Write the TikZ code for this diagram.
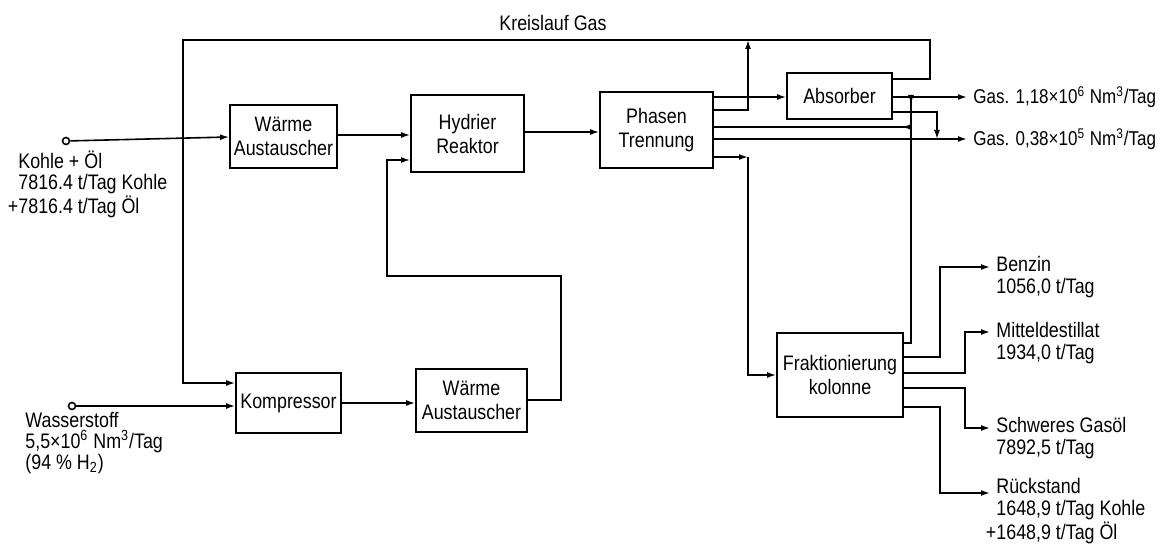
\documentclass[tikz,border=0pt]{standalone}
\usepackage{fontspec}
\setmainfont[FakeStretch=0.85]{Liberation Sans}
\usetikzlibrary{arrows.meta}
\tikzset{
  box/.style={draw, line width=0.9pt, align=center, inner sep=0pt, font=\fontsize{10.5}{12}\selectfont},
  ln/.style={line width=0.8pt},
  arr/.style={ln, -{Latex[length=4.5pt,width=3pt]}},
  lbl/.style={inner sep=0pt, align=left, font=\fontsize{10.5}{10.5}\selectfont, anchor=north west},
  tlbl/.style={inner sep=3pt, font=\fontsize{10.5}{10.5}\selectfont, anchor=west},
  glbl/.style={inner sep=3pt, font=\fontsize{10}{10.5}\selectfont, anchor=west},
  circ/.style={draw, circle, line width=0.8pt, inner sep=0pt, minimum size=3.5pt, fill=white},
}
\begin{document}
\begin{tikzpicture}[x=0.5pt,y=-0.5pt]
\useasboundingbox (0,0) rectangle (1176,545);

% boxes
\node[box, minimum width=53.5pt, minimum height=31.5pt] (wa1) at (283.5,136.5) {Wärme\\Austauscher};
\node[box, minimum width=56.5pt, minimum height=38.5pt] (hr)  at (467.5,133.5) {Hydrier\\Reaktor};
\node[box, minimum width=56.5pt, minimum height=38pt]   (pt)  at (656.5,130)   {Phasen\\Trennung};
\node[box, minimum width=52.5pt, minimum height=23pt]   (ab)  at (839.5,96)    {Absorber};
\node[box, minimum width=63pt,   minimum height=42pt]   (fk)  at (840,375)     {Fraktionierung\\kolonne};
\node[box, minimum width=52.5pt, minimum height=30pt]   (ko)  at (288.5,403)   {Kompressor};
\node[box, minimum width=55.5pt, minimum height=31.5pt] (wa2) at (471.5,400.5) {Wärme\\Austauscher};

% labels
\node[font=\fontsize{10.5}{10.5}\selectfont] (kg) at (553,23) {Kreislauf Gas};
\node[circ] (k0) at (66,141) {};
\node[lbl] (kl) at (18,151) {Kohle + Öl\\7816.4 t/Tag Kohle\\\llap{+}7816.4 t/Tag Öl};
\node[circ] (h0) at (72,406) {};
\node[lbl] (hl) at (25,412) {Wasserstoff\\5,5×10\textsuperscript{6} Nm\textsuperscript{3}/Tag\\(94 \% H\textsubscript{2})};
\node[glbl] (g1) at (967,97) {Gas. 1,18×10\textsuperscript{6} Nm\textsuperscript{3}/Tag};
\node[glbl] (g2) at (967,139) {Gas. 0,38×10\textsuperscript{5} Nm\textsuperscript{3}/Tag};
\node[tlbl] (bz) at (990,264) {Benzin};
\node[lbl] (bzv) at (bz.south west) {\hspace{3pt}1056,0 t/Tag};
\node[tlbl] (md) at (990,330) {Mitteldestillat};
\node[lbl] (mdv) at (md.south west) {\hspace{3pt}1934,0 t/Tag};
\node[tlbl] (sg) at (990,425) {Schweres Gasöl};
\node[lbl] (sgv) at (sg.south west) {\hspace{3pt}7892,5 t/Tag};
\node[tlbl] (rs) at (990,486) {Rückstand};
\node[lbl] (rsv) at (rs.south west) {\hspace{3pt}1648,9 t/Tag Kohle\\\hspace{3pt}\llap{+}1648,9 t/Tag Öl};

% junction coordinates
\coordinate (j1) at (748,40);

% Kreislauf Gas loop
\draw[arr] (ab.east |- 0,79) -- (930,79) -- (930,40) -- (183,40) -- (183,383) -- (ko.west |- 0,383);
\draw[arr] (pt.east |- 0,110) -- (748,110) -- (j1);

% main line
\draw[arr] (k0) -- (wa1.west |- 0,137);
\draw[arr] (wa1.east |- 0,135) -- (hr.west |- 0,135);
\draw[arr] (hr.east |- 0,132) -- (pt.west |- 0,132);
\draw[arr] (pt.east |- 0,97) -- (ab.west |- 0,97);
\draw[arr] (ab.east |- 0,97) -- (g1.west);
\draw[arr] (pt.east |- 0,139) -- (g2.west);

% gas from fractionation / absorber branches
\draw[ln] (fk.east |- 0,343) -- (911,343) -- (911,97);
\draw[arr] (911,96) -- (911,104);
\draw[ln] (pt.east |- 0,127) -- (911,127);
\draw[arr] (911,127) -- (902,127);
\draw[arr] (ab.east |- 0,112) -- (937,112) -- (937,139);

% to fractionation
\draw[arr] (pt.east |- 0,157) -- (748,157);
\draw[arr] (748,157) -- (748,375) -- (fk.west |- 0,375);

% hydrogen path
\draw[arr] (h0) -- (ko.west |- 0,406);
\draw[arr] (ko.east |- 0,403) -- (wa2.west |- 0,403);
\draw[arr] (wa2.east |- 0,400) -- (561,400) -- (561,276) -- (387,276) -- (387,160) -- (hr.west |- 0,160);

% products
\draw[arr] (fk.east |- 0,357) -- (940,357) -- (940,267) -- (bz.west |- 0,267);
\draw[arr] (fk.east |- 0,373) -- (965,373) -- (965,332) -- (md.west |- 0,332);
\draw[arr] (fk.east |- 0,388) -- (965,388) -- (965,428) -- (sg.west |- 0,428);
\draw[arr] (fk.east |- 0,407) -- (940,407) -- (940,493) -- (rs.west |- 0,493);
\end{tikzpicture}
\end{document}
